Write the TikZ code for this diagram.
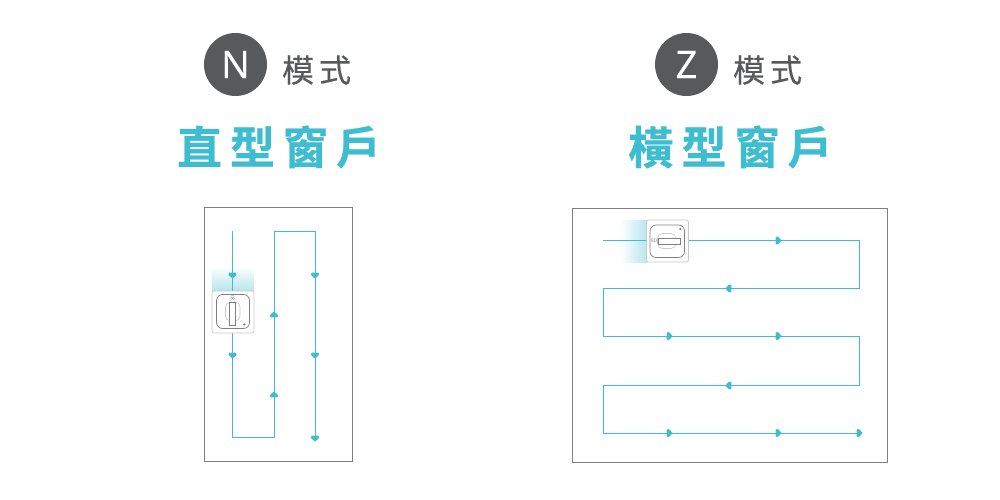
\documentclass[tikz,border=0pt]{standalone}
\usepackage{fontspec}
\setmainfont{Open Sans}
\newfontfamily\badgefont[FakeBold=0.5]{Open Sans}
\newfontfamily\cjk[FakeBold=0.4]{Noto Sans CJK TC}
\newfontfamily\cjkb[FakeBold=0.6]{Noto Sans CJK TC Bold}
\definecolor{flow}{HTML}{3FBDD0}
\definecolor{darkc}{HTML}{58595B}
\definecolor{framec}{HTML}{808080}
\definecolor{boxc}{HTML}{C8C8C8}
\definecolor{knob}{HTML}{808082}
\tikzset{
  frameline/.style={draw=framec,line width=1pt},
  flowline/.style={draw=flow,line width=1pt},
  badge/.style={circle,fill=darkc,minimum size=63pt,inner sep=0pt,text=white,font=\badgefont\fontsize{38}{38}\selectfont},
  modetxt/.style={text=darkc,inner sep=0pt,font=\cjk\fontsize{32}{32}\selectfont},
  titletxt/.style={text=flow,inner sep=0pt,font=\cjkb\fontsize{45}{45}\selectfont},
  switchbox/.style={draw=boxc,fill=white,line width=0.7pt,rounded corners=2pt},
  inner/.style={draw=knob,line width=0.7pt,rounded corners=6pt},
  oval/.style={draw=boxc,line width=0.6pt,rounded corners=5pt},
  handle/.style={draw=knob,fill=white,line width=0.5pt},
  mk/.pic={\fill[flow] (3.6,0) -- (0.4,-3.6) .. controls (-1.8,-5) and (-4,-2) .. (-2.2,0) .. controls (-4,2) and (-1.8,5) .. (0.4,3.6) -- cycle;},
  lbl/.style={inner sep=0pt,text=knob,font=\fontsize{5}{5}\selectfont}
}
\begin{document}
\begin{tikzpicture}[x=1pt,y=-1pt]
\useasboundingbox (0,0) rectangle (1000,500);
% headings
\node[badge] (n) at (235.5,64.5) {N};
\node[modetxt] (nm) at (316.5,70) {模\hspace{5pt}式};
\node[titletxt] (nt) at (279,147) {直\hspace{8pt}型\hspace{8pt}窗\hspace{8pt}戶};
\node[badge] (z) at (686.5,64.5) {Z};
\node[modetxt] (zm) at (767.5,70) {模\hspace{5pt}式};
\node[titletxt] (zt) at (730.5,147) {橫\hspace{8pt}型\hspace{8pt}窗\hspace{8pt}戶};
% frames
\draw[frameline] (204,207.5) rectangle (352,461);
\draw[frameline] (572,208.5) rectangle (887,462);
% left
\shade[top color=white,bottom color=flow!38] (212,266) rectangle (254,291);
\coordinate (a0) at (232.5,231);
\coordinate (a1) at (232.5,437);
\coordinate (a2) at (274,437);
\coordinate (a3) at (274,231);
\coordinate (a4) at (315,231);
\coordinate (a5) at (315,436);
\draw[flowline] (a0) -- (a1) -- (a2) -- (a3) -- (a4) -- (a5);
\foreach \x/\y/\r in {232.5/275/-90,232.5/355/-90,274/315/90,274/395/90,315/275/-90,315/355/-90,315/438/-90}
  \pic[rotate=\r] at (\x,\y) {mk};
\draw[switchbox] (212,291) rectangle (254,333);
\draw[inner] (216.5,294.5) rectangle (249.5,328.5);
\draw[oval] (225.5,302) rectangle (240,321);
\draw[handle] (229.5,302.5) rectangle (235.5,325);
\node[lbl,rotate=90] (l80) at (232.5,298) {80};
\fill[knob] (244.3,324.5) circle (1.2);
% right
\shade[left color=white,right color=flow!38] (620,220) rectangle (647,262);
\coordinate (b0) at (603,240.5);
\coordinate (b1) at (859,240.5);
\coordinate (b2) at (859,288.5);
\coordinate (b3) at (603,288.5);
\coordinate (b4) at (603,336);
\coordinate (b5) at (859,336);
\coordinate (b6) at (859,385.5);
\coordinate (b7) at (603,385.5);
\coordinate (b8) at (603,433);
\coordinate (b9) at (858,433);
\draw[flowline] (b0) -- (b1) -- (b2) -- (b3) -- (b4) -- (b5) -- (b6) -- (b7) -- (b8) -- (b9);
\foreach \x/\y/\r in {778/240.5/0,729/288.5/180,669/336/0,778/336/0,729/385.5/180,669/433/0,778/433/0,859/433/0}
  \pic[rotate=\r] at (\x,\y) {mk};
\draw[switchbox] (646.5,220) rectangle (688.5,262);
\draw[inner] (650,225) rectangle (684.5,257.5);
\draw[oval] (657.5,233.5) rectangle (676,248.5);
\draw[handle] (658.5,238) rectangle (680.5,244);
\node[lbl] (r80) at (654,241) {80};
\fill[knob] (680.3,229) circle (1.2);
\end{tikzpicture}
\end{document}
